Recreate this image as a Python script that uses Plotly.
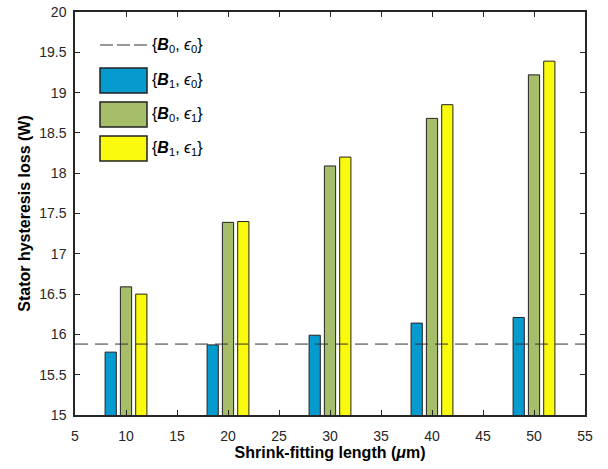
import plotly.graph_objects as go

lengths = [10, 20, 30, 40, 50]
b1_e0 = [15.78, 15.87, 15.99, 16.14, 16.21]
b0_e1 = [16.59, 17.39, 18.09, 18.68, 19.22]
b1_e1 = [16.50, 17.40, 18.20, 18.85, 19.39]
baseline_x = [5, 55]
baseline_y = [15.88, 15.88]

names = ["{<b><i>B</i></b><sub>0</sub>, <i>ϵ</i><sub>0</sub>}",
         "{<b><i>B</i></b><sub>1</sub>, <i>ϵ</i><sub>0</sub>}",
         "{<b><i>B</i></b><sub>0</sub>, <i>ϵ</i><sub>1</sub>}",
         "{<b><i>B</i></b><sub>1</sub>, <i>ϵ</i><sub>1</sub>}"]
colors = ["#069BCE", "#A6BE6A", "#FAFA0C"]
series = [b1_e0, b0_e1, b1_e1]
offsets = [-2.05, -0.55, 0.95]

FONT = "Liberation Sans, Arial"

fig = go.Figure()
fig.add_trace(go.Scatter(x=baseline_x, y=baseline_y, mode="lines",
                         line=dict(color="#333333", width=1, dash="13px,7px"),
                         showlegend=False))
for s, c, o in zip(series, colors, offsets):
    fig.add_trace(go.Bar(x=lengths, y=s, width=1.1, offset=o,
                         marker=dict(color=c, line=dict(color="#222222", width=1)),
                         showlegend=False))

X0, W, YB, H = 75, 510, 415, 403
def px(x):
    return (x - X0) / W
def py(y):
    return (YB - y) / H

shapes = [dict(type="line", xref="paper", yref="paper", x0=px(100), x1=px(148),
               y0=py(45), y1=py(45), line=dict(color="#333333", width=1, dash="13px,4px"))]
rects = [(68, 93), (102, 127), (136, 161)]
for (a, b), c in zip(rects, colors):
    shapes.append(dict(type="rect", xref="paper", yref="paper", x0=px(100), x1=px(147),
                       y0=py(b), y1=py(a), fillcolor=c, line=dict(color="#222222", width=1.5)))
annotations = []
for n, yc in zip(names, [45, 80.5, 114.5, 148.5]):
    annotations.append(dict(xref="paper", yref="paper", x=px(150), y=py(yc), text=n,
                            showarrow=False, xanchor="left", yanchor="middle",
                            font=dict(family=FONT, size=16, color="#000")))

axis_common = dict(showline=True, linecolor="#262626", linewidth=1.5, mirror="ticks",
                   ticks="inside", ticklen=5, tickcolor="#262626", showgrid=False,
                   zeroline=False, automargin=False,
                   tickfont=dict(family=FONT, size=14, color="#262626"))

fig.update_layout(
    width=608, height=469,
    margin=dict(l=75, r=23, t=12, b=54),
    plot_bgcolor="white", paper_bgcolor="white",
    barmode="overlay",
    shapes=shapes, annotations=annotations,
    xaxis=dict(range=[5, 55], tickvals=list(range(5, 56, 5)), ticklabelstandoff=7,
               title=dict(text="<b>Shrink-fitting length (<i>μ</i>m)</b>", standoff=4,
                          font=dict(family=FONT, size=16, color="#000")),
               **axis_common),
    yaxis=dict(range=[15, 20], tickvals=[15 + 0.5 * i for i in range(11)],
               ticktext=["15", "15.5", "16", "16.5", "17", "17.5", "18", "18.5", "19", "19.5", "20"],
               ticklabelstandoff=4,
               title=dict(text="<b>Stator hysteresis loss (W)</b>", standoff=5,
                          font=dict(family=FONT, size=16, color="#000")),
               **axis_common),
)

fig.write_html("out.html")
